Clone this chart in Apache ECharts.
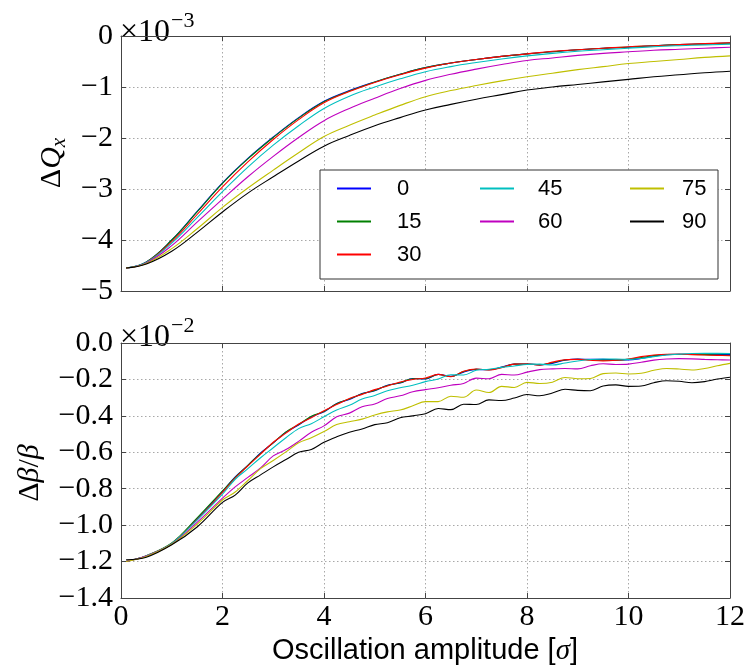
<!DOCTYPE html>
<html><head><meta charset="utf-8">
<script src="https://cdn.jsdelivr.net/npm/echarts@6/dist/echarts.min.js"></script>
<style>html,body{margin:0;padding:0;background:#fff}#c{width:754px;height:667px}</style>
</head><body><div id="c"></div>
<script>
// ---------- data ----------
const seriesNames = ['0','15','30','45','60','75','90'];
const colors = ['#0000ff','#008000','#ff0000','#00bfbf','#bf00bf','#bfbf00','#000000'];
const xTicks = [0,2,4,6,8,10,12];
const yTopTicks = [0,-1,-2,-3,-4,-5];            // x 10^-3
const yBotTicks = [0,-0.2,-0.4,-0.6,-0.8,-1.0,-1.2,-1.4]; // x 10^-2

// top panel: Delta Q_x (units of 1e-3)
const xTop = [0.1,0.5,1,1.5,2,2.5,3,3.5,4,4.5,5,5.5,6,6.5,7,7.5,8,8.5,9,9.5,10,10.5,11,11.5,12];
const dq0  = [-4.55,-4.43,-4.00,-3.44,-2.88,-2.40,-1.98,-1.60,-1.28,-1.07,-0.90,-0.75,-0.62,-0.53,-0.46,-0.40,-0.35,-0.31,-0.27,-0.24,-0.22,-0.19,-0.17,-0.155,-0.14];
const dq15 = [-4.55,-4.43,-4.00,-3.45,-2.89,-2.41,-1.99,-1.61,-1.29,-1.08,-0.90,-0.75,-0.62,-0.53,-0.46,-0.40,-0.35,-0.31,-0.27,-0.24,-0.215,-0.19,-0.17,-0.155,-0.14];
const dq30 = [-4.55,-4.44,-4.03,-3.50,-2.96,-2.47,-2.03,-1.64,-1.31,-1.09,-0.91,-0.76,-0.63,-0.53,-0.46,-0.40,-0.35,-0.30,-0.27,-0.24,-0.21,-0.19,-0.17,-0.15,-0.135];
const dq45 = [-4.55,-4.44,-4.06,-3.56,-3.05,-2.57,-2.14,-1.76,-1.42,-1.18,-1.00,-0.84,-0.70,-0.60,-0.52,-0.45,-0.39,-0.34,-0.30,-0.27,-0.24,-0.21,-0.19,-0.175,-0.16];
const dq60 = [-4.55,-4.45,-4.11,-3.65,-3.20,-2.76,-2.36,-1.99,-1.66,-1.42,-1.22,-1.03,-0.87,-0.75,-0.65,-0.56,-0.48,-0.43,-0.38,-0.34,-0.31,-0.28,-0.26,-0.24,-0.22];
const dq75 = [-4.55,-4.46,-4.17,-3.78,-3.36,-2.98,-2.63,-2.29,-1.97,-1.75,-1.55,-1.36,-1.19,-1.07,-0.97,-0.88,-0.80,-0.73,-0.66,-0.60,-0.54,-0.50,-0.46,-0.42,-0.39];
const dq90 = [-4.55,-4.47,-4.22,-3.85,-3.45,-3.08,-2.76,-2.45,-2.16,-1.95,-1.76,-1.60,-1.45,-1.34,-1.24,-1.15,-1.06,-1.00,-0.95,-0.90,-0.85,-0.80,-0.76,-0.72,-0.69];

// bottom panel: Delta beta / beta (units of 1e-2)
const xBot = [0.1,0.5,1,1.5,2,2.25,2.5,2.75,3,3.25,3.5,3.75,4,4.25,4.5,4.75,5,5.25,5.5,5.75,6,6.25,6.5,6.75,7,7.25,7.5,7.75,8,8.25,8.5,8.75,9,9.25,9.5,9.75,10,10.25,10.5,10.75,11,11.25,11.5,11.75,12];
const db0  = [-1.200,-1.170,-1.102,-0.965,-0.815,-0.735,-0.672,-0.604,-0.548,-0.490,-0.450,-0.405,-0.378,-0.332,-0.310,-0.278,-0.262,-0.232,-0.220,-0.195,-0.198,-0.172,-0.183,-0.160,-0.145,-0.147,-0.132,-0.116,-0.115,-0.120,-0.112,-0.094,-0.088,-0.090,-0.090,-0.093,-0.093,-0.085,-0.072,-0.064,-0.062,-0.062,-0.063,-0.063,-0.064];
const db15 = [-1.200,-1.168,-1.098,-0.960,-0.812,-0.738,-0.672,-0.606,-0.548,-0.488,-0.448,-0.402,-0.376,-0.333,-0.308,-0.279,-0.260,-0.233,-0.218,-0.196,-0.196,-0.173,-0.184,-0.157,-0.144,-0.147,-0.134,-0.116,-0.115,-0.120,-0.108,-0.093,-0.089,-0.092,-0.094,-0.094,-0.090,-0.080,-0.069,-0.063,-0.062,-0.063,-0.064,-0.066,-0.067];
const db30 = [-1.200,-1.168,-1.100,-0.970,-0.820,-0.742,-0.675,-0.610,-0.545,-0.495,-0.445,-0.410,-0.372,-0.338,-0.305,-0.282,-0.256,-0.236,-0.214,-0.200,-0.192,-0.172,-0.185,-0.155,-0.143,-0.148,-0.135,-0.116,-0.115,-0.121,-0.105,-0.092,-0.090,-0.095,-0.098,-0.095,-0.088,-0.075,-0.066,-0.062,-0.062,-0.064,-0.066,-0.068,-0.070];
const db45 = [-1.200,-1.168,-1.100,-0.972,-0.830,-0.748,-0.690,-0.630,-0.575,-0.520,-0.470,-0.443,-0.405,-0.368,-0.342,-0.308,-0.288,-0.262,-0.246,-0.232,-0.212,-0.198,-0.174,-0.176,-0.150,-0.144,-0.134,-0.126,-0.118,-0.116,-0.121,-0.110,-0.099,-0.091,-0.088,-0.088,-0.090,-0.085,-0.075,-0.066,-0.062,-0.058,-0.057,-0.057,-0.058];
const db60 = [-1.200,-1.170,-1.105,-0.985,-0.852,-0.790,-0.738,-0.686,-0.620,-0.585,-0.540,-0.490,-0.455,-0.405,-0.385,-0.350,-0.335,-0.305,-0.290,-0.268,-0.256,-0.246,-0.232,-0.222,-0.193,-0.196,-0.172,-0.176,-0.160,-0.146,-0.142,-0.140,-0.142,-0.125,-0.114,-0.118,-0.116,-0.106,-0.094,-0.088,-0.086,-0.087,-0.090,-0.092,-0.093];
const db75 = [-1.200,-1.172,-1.105,-0.995,-0.862,-0.818,-0.755,-0.690,-0.645,-0.598,-0.548,-0.520,-0.486,-0.448,-0.432,-0.418,-0.395,-0.378,-0.368,-0.345,-0.322,-0.322,-0.292,-0.298,-0.258,-0.272,-0.238,-0.244,-0.216,-0.222,-0.215,-0.189,-0.196,-0.195,-0.168,-0.165,-0.170,-0.166,-0.150,-0.140,-0.143,-0.148,-0.140,-0.125,-0.112];
const db90 = [-1.190,-1.176,-1.108,-1.010,-0.875,-0.835,-0.768,-0.724,-0.680,-0.640,-0.600,-0.585,-0.545,-0.515,-0.490,-0.472,-0.448,-0.438,-0.410,-0.400,-0.388,-0.360,-0.366,-0.336,-0.338,-0.312,-0.316,-0.302,-0.283,-0.290,-0.275,-0.254,-0.260,-0.262,-0.236,-0.230,-0.238,-0.236,-0.218,-0.207,-0.210,-0.218,-0.212,-0.198,-0.188];

const topData = [dq0,dq15,dq30,dq45,dq60,dq75,dq90];
const botData = [db0,db15,db30,db45,db60,db75,db90];

// ---------- chart ----------
const SERIF = 'Liberation Serif';
const SANS = 'Liberation Sans';
const frame = {color:'#444', width:1};
const gridLine = {show:true, lineStyle:{color:'#a8a8a8', width:1, type:[1.5,2.5]}};
const tick = {show:true, inside:true, length:5, lineStyle:{color:'#444', width:1}};
const minus = '\u2212';

function xAx(grid, pos, labels) {
  return {
    gridIndex:grid, type:'value', position:pos, min:xTicks[0], max:xTicks[xTicks.length-1], interval:xTicks[1]-xTicks[0],
    axisLine:{show:true, onZero:false, lineStyle:frame}, axisTick:tick,
    splitLine: pos==='bottom' ? gridLine : {show:false},
    axisLabel: labels ? {show:true, fontFamily:SERIF, fontSize:30, color:'#000', margin:4,
      formatter:v=>String(v)} : {show:false}
  };
}
function yAx(grid, pos, ticks, fmt) {
  return {
    gridIndex:grid, type:'value', position:pos, min:ticks[ticks.length-1], max:ticks[0], interval:Math.abs(ticks[1]-ticks[0]),
    axisLine:{show:true, onZero:false, lineStyle:frame}, axisTick:tick,
    splitLine: pos==='left' ? gridLine : {show:false},
    axisLabel: fmt ? {show:true, fontFamily:SERIF, fontSize:30, color:'#000', margin:8, formatter:fmt} : {show:false}
  };
}
const fmtTop = v => (Math.abs(v) < 1e-9 ? '0' : (v < 0 ? minus : '') + Math.abs(Math.round(v)));
const fmtBot = v => (Math.abs(v) < 1e-9 ? '0.0' : (v < 0 ? minus : '') + Math.abs(v).toFixed(1));

const series = [];
seriesNames.forEach((n,i)=>{
  series.push({name:n, type:'line', xAxisIndex:0, yAxisIndex:0, showSymbol:false, symbol:'none',
    smooth:0.4,
    lineStyle:{width:1.1, color:colors[i]}, itemStyle:{color:colors[i]},
    data:xTop.map((x,k)=>[x, topData[i][k]]), z:2});
  series.push({name:n, type:'line', xAxisIndex:2, yAxisIndex:2, showSymbol:false, symbol:'none',
    smooth:0.35,
    lineStyle:{width:1.1, color:colors[i]}, itemStyle:{color:colors[i]},
    data:xBot.map((x,k)=>[x, botData[i][k]]), z:2});
});

// legend: column-major order in 3 columns
const col = [ {width:75, padding:[0,0,0,21]}, {width:84, padding:[0,0,0,19]}, {width:25, padding:[0,0,0,13]} ];
const legendOrder = [['0',0],['45',1],['75',2],['15',0],['60',1],['90',2],['30',0]];

const OFF_SIZE = 32, SUP_SIZE = 22;
function measure(text, size){ const c=document.createElement('canvas').getContext('2d'); c.font=size+'px "'+SERIF+'"'; return c.measureText(text).width; }
const wBase = measure('\u00d710', OFF_SIZE);

const chart = echarts.init(document.getElementById('c'), null, {renderer:'canvas'});
chart.setOption({
  animation:false,
  backgroundColor:'#fff',
  grid:[
    {left:121, top:36, right:24, height:255},
    {left:121, top:343, right:24, height:255}
  ],
  xAxis:[ xAx(0,'bottom',false), xAx(0,'top',false), xAx(1,'bottom',true), xAx(1,'top',false) ],
  yAxis:[ yAx(0,'left',yTopTicks,fmtTop), yAx(0,'right',yTopTicks,null), yAx(1,'left',yBotTicks,fmtBot), yAx(1,'right',yBotTicks,null) ],
  legend:{
    left:320, top:170, width:390, orient:'horizontal', z:10,
    itemWidth:34, itemHeight:2, itemGap:8, icon:'rect',
    padding:[6,11,12,17],
    backgroundColor:'#fff', borderColor:'#333', borderWidth:1, borderRadius:0,
    textStyle:{fontFamily:SANS, fontSize:22, color:'#000', lineHeight:25},
    data: legendOrder.map(([n,c])=>({name:n, textStyle:{width:col[c].width, padding:col[c].padding, fontFamily:SANS, fontSize:22, lineHeight:25}}))
  },
  graphic:[
    {type:'text', x:52, y:163, rotation:Math.PI/2, style:{
      text:'{d|\u0394}{q|Q}{s|x}', align:'center', verticalAlign:'middle', fill:'#000',
      rich:{ d:{fontFamily:SERIF, fontSize:30, lineHeight:36, verticalAlign:'middle'},
             q:{fontFamily:SERIF, fontSize:30, fontStyle:'italic', lineHeight:36, verticalAlign:'middle'},
             s:{fontFamily:SERIF, fontSize:21, fontStyle:'italic', lineHeight:21, verticalAlign:'bottom'} } }},
    {type:'text', x:30, y:473, rotation:Math.PI/2, style:{
      text:'{d|\u0394}{q|\u03b2}{d|/}{q|\u03b2}', align:'center', verticalAlign:'middle', fill:'#000',
      rich:{ d:{fontFamily:SERIF, fontSize:30}, q:{fontFamily:SERIF, fontSize:30, fontStyle:'italic'} } }},
    {type:'text', x:120, y:33, style:{text:'\u00d710', fontFamily:SERIF, fontSize:OFF_SIZE, align:'left', verticalAlign:'middle', fill:'#000'}},
    {type:'text', x:120+wBase+1, y:21, style:{text:minus+'3', fontFamily:SERIF, fontSize:SUP_SIZE, align:'left', verticalAlign:'middle', fill:'#000'}},
    {type:'text', x:120, y:338, style:{text:'\u00d710', fontFamily:SERIF, fontSize:OFF_SIZE, align:'left', verticalAlign:'middle', fill:'#000'}},
    {type:'text', x:120+wBase+1, y:326, style:{text:minus+'2', fontFamily:SERIF, fontSize:SUP_SIZE, align:'left', verticalAlign:'middle', fill:'#000'}},
    {type:'text', x:425, y:651, style:{
      text:'Oscillation amplitude [{i|\u03c3}]', align:'center', verticalAlign:'middle', fill:'#000',
      fontFamily:SANS, fontSize:29,
      rich:{ i:{fontFamily:SERIF, fontSize:29, fontStyle:'italic'} } }}
  ],
  series: series
});
</script></body></html>
